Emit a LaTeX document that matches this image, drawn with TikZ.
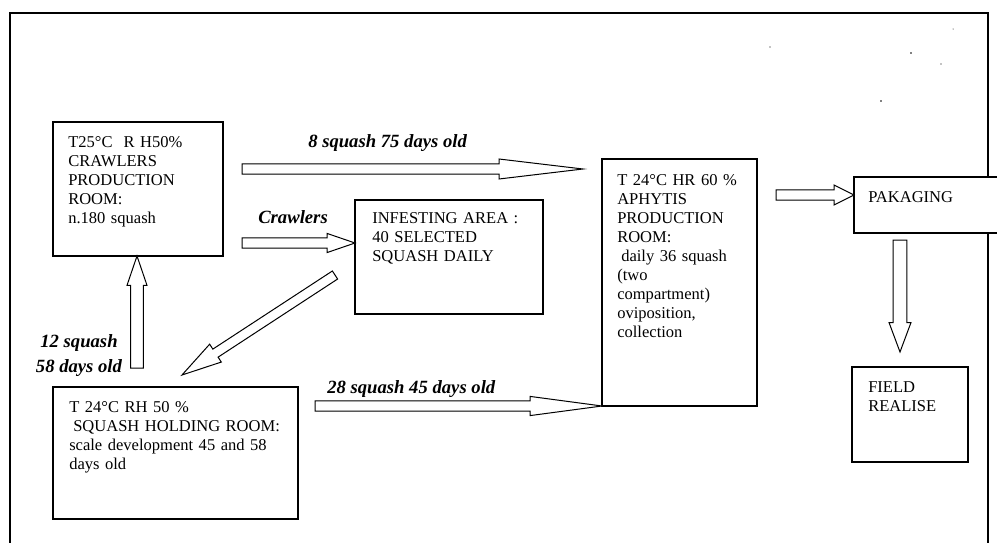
\documentclass[tikz,border=0pt]{standalone}
\usepackage{fontspec}
\setmainfont{Liberation Serif}
\usetikzlibrary{calc,fit}
\newcommand\blockarr[5]{%
  \coordinate (hb) at ($(#2)!#5!(#1)$);
  \draw[barr] ($(#1)!#3!90:(#2)$) -- ($(hb)!#3!-90:(#1)$) -- ($(hb)!#4!-90:(#1)$) -- (#2)
     -- ($(hb)!#4!90:(#1)$) -- ($(hb)!#3!90:(#1)$) -- ($(#1)!#3!-90:(#2)$) -- cycle;}
\begin{document}
\begin{tikzpicture}[x=0.75pt,y=-0.75pt,
  box/.style={draw, line width=0.9pt, fill=white, inner sep=0pt, outer sep=0pt},
  txt/.style={anchor=base west, inner sep=0pt, align=left, text width=#1,
              font=\fontsize{12.4}{14.25}\selectfont},
  lab/.style={font=\fontsize{14}{14.25}\selectfont\bfseries\itshape, inner sep=0pt},
  barr/.style={draw, line width=0.75pt, fill=white, line join=miter},
  frame/.style={draw, line width=1.6pt}]

\useasboundingbox (0,0) rectangle (997,543);

% outer frame (open at the bottom)
\draw[frame] (10,543) -- (10,13) -- (988,13) -- (988,543);

% scan specks
\fill (770,47) circle (0.7);
\fill (911,53) circle (0.8);
\fill (941,64) circle (0.6);
\fill (953,29) circle (0.5);
\fill (881,101) circle (0.9);

% boxes
\node[box, fit={(53,122) (223,256)}] (crawl) {};
\node[box, fit={(355,200) (543,314)}] (infest) {};
\node[box, fit={(602,159) (757,406)}] (aphy) {};
\node[box, fit={(53,387) (298,519)}] (hold) {};
\node[box, fit={(854,177) (1005,233)}] (pak) {};
\node[box, fit={(852,367) (968,462)}] (field) {};

% box texts
\node[txt=150pt] (crawlT) at ($(crawl.north west)+(15,25)$)
  {T25°C\ \ R H50\%\\CRAWLERS\\PRODUCTION\\ROOM:\\n.180 squash};
\node[txt=150pt] (infestT) at ($(infest.north west)+(17,23)$)
  {INFESTING AREA :\\40 SELECTED\\SQUASH DAILY};
\node[txt=120pt] (aphyT) at ($(aphy.north west)+(15,26)$)
  {T 24°C HR 60 \%\\APHYTIS\\PRODUCTION\\ROOM:\\\hspace*{3pt}daily 36 squash\\(two\\compartment)\\oviposition,\\collection};
\node[txt=200pt] (holdT) at ($(hold.north west)+(16,25)$)
  {T 24°C RH 50 \%\\\hspace*{3pt}SQUASH HOLDING ROOM:\\scale development 45 and 58\\days old};
\node[txt=100pt] (pakT) at ($(pak.north west)+(14,25)$) {PAKAGING};
\node[txt=80pt] (fieldT) at ($(field.north west)+(16,25)$) {FIELD\\REALISE};

% labels
\node[lab, anchor=base west] (l8) at (308,147) {8 squash 75 days old};
\node[lab, anchor=base west] (lcr) at (258,223) {Crawlers};
\node[lab, align=center, font=\fontsize{14}{18.75}\selectfont\bfseries\itshape] (l12) at (79,356) {12 squash\\58 days old};
\node[lab, anchor=base west] (l28) at (327,393) {28 squash 45 days old};

% arrow end points
\coordinate (a1s) at (242,169);
\coordinate (a1t) at ($(aphy.west |- a1s)+(-19,0)$);
\coordinate (a2s) at (242,243);
\coordinate (a2t) at (infest.west |- a2s);
\coordinate (a3s) at (137,368);
\coordinate (a3t) at (a3s |- crawl.south);
\coordinate (a4s) at (335,275);
\coordinate (a4t) at ($(hold.north west)+(129,-12)$);
\coordinate (a5s) at (315,406);
\coordinate (a5t) at (aphy.south west);
\coordinate (a6s) at (776,195);
\coordinate (a6t) at (pak.west |- a6s);
\coordinate (a7s) at (900,240);
\coordinate (a7t) at ($(a7s |- field.north)+(0,-15)$);

% block arrows: tail, tip, shaft half width, head half width, head length
\blockarr{a1s}{a1t}{3.9pt}{7.5pt}{63pt}
\blockarr{a2s}{a2t}{3.9pt}{7.2pt}{21pt}
\blockarr{a3s}{a3t}{4.8pt}{7.5pt}{22pt}
\blockarr{a4s}{a4t}{3.6pt}{8pt}{30pt}
\blockarr{a5s}{a5t}{3.9pt}{7.2pt}{54pt}
\blockarr{a6s}{a6t}{3.9pt}{7.5pt}{15pt}
\blockarr{a7s}{a7t}{5.2pt}{8.2pt}{22pt}
\end{tikzpicture}
\end{document}
